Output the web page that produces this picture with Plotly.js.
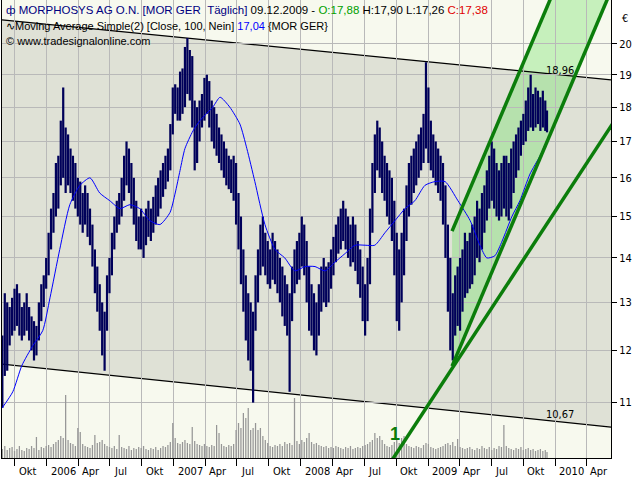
<!DOCTYPE html>
<html><head><meta charset="utf-8">
<script src="https://cdn.plot.ly/plotly-3.0.1.min.js"></script>
<style>html,body{margin:0;padding:0;background:#fff}#c{width:640px;height:480px}</style>
</head><body><div id="c"></div>
<script>
// weekly price range (week ending Friday)
const dates = [
'2005-08-26','2005-09-02','2005-09-09','2005-09-16','2005-09-23','2005-09-30','2005-10-07','2005-10-14','2005-10-21','2005-10-28','2005-11-04','2005-11-11','2005-11-18','2005-11-25','2005-12-02','2005-12-09','2005-12-16','2005-12-23','2005-12-30',
'2006-01-06','2006-01-13','2006-01-20','2006-01-27','2006-02-03','2006-02-10','2006-02-17','2006-02-24','2006-03-03','2006-03-10','2006-03-17','2006-03-24','2006-03-31','2006-04-07','2006-04-14','2006-04-21','2006-04-28','2006-05-05','2006-05-12','2006-05-19','2006-05-26','2006-06-02','2006-06-09','2006-06-16','2006-06-23','2006-06-30','2006-07-07','2006-07-14','2006-07-21','2006-07-28','2006-08-04','2006-08-11','2006-08-18','2006-08-25','2006-09-01','2006-09-08','2006-09-15','2006-09-22','2006-09-29','2006-10-06','2006-10-13','2006-10-20','2006-10-27','2006-11-03','2006-11-10','2006-11-17','2006-11-24','2006-12-01','2006-12-08','2006-12-15','2006-12-22','2006-12-29',
'2007-01-05','2007-01-12','2007-01-19','2007-01-26','2007-02-02','2007-02-09','2007-02-16','2007-02-23','2007-03-02','2007-03-09','2007-03-16','2007-03-23','2007-03-30','2007-04-06','2007-04-13','2007-04-20','2007-04-27','2007-05-04','2007-05-11','2007-05-18','2007-05-25','2007-06-01','2007-06-08','2007-06-15','2007-06-22','2007-06-29','2007-07-06','2007-07-13','2007-07-20','2007-07-27','2007-08-03','2007-08-10','2007-08-17','2007-08-24','2007-08-31','2007-09-07','2007-09-14','2007-09-21','2007-09-28','2007-10-05','2007-10-12','2007-10-19','2007-10-26','2007-11-02','2007-11-09','2007-11-16','2007-11-23','2007-11-30','2007-12-07','2007-12-14','2007-12-21','2007-12-28',
'2008-01-04','2008-01-11','2008-01-18','2008-01-25','2008-02-01','2008-02-08','2008-02-15','2008-02-22','2008-02-29','2008-03-07','2008-03-14','2008-03-21','2008-03-28','2008-04-04','2008-04-11','2008-04-18','2008-04-25','2008-05-02','2008-05-09','2008-05-16','2008-05-23','2008-05-30','2008-06-06','2008-06-13','2008-06-20','2008-06-27','2008-07-04','2008-07-11','2008-07-18','2008-07-25','2008-08-01','2008-08-08','2008-08-15','2008-08-22','2008-08-29','2008-09-05','2008-09-12','2008-09-19','2008-09-26','2008-10-03','2008-10-10','2008-10-17','2008-10-24','2008-10-31','2008-11-07','2008-11-14','2008-11-21','2008-11-28','2008-12-05','2008-12-12','2008-12-19','2008-12-26',
'2009-01-02','2009-01-09','2009-01-16','2009-01-23','2009-01-30','2009-02-06','2009-02-13','2009-02-20','2009-02-27','2009-03-06','2009-03-13','2009-03-20','2009-03-27','2009-04-03','2009-04-10','2009-04-17','2009-04-24','2009-05-01','2009-05-08','2009-05-15','2009-05-22','2009-05-29','2009-06-05','2009-06-12','2009-06-19','2009-06-26','2009-07-03','2009-07-10','2009-07-17','2009-07-24','2009-07-31','2009-08-07','2009-08-14','2009-08-21','2009-08-28','2009-09-04','2009-09-11','2009-09-18','2009-09-25','2009-10-02','2009-10-09','2009-10-16','2009-10-23','2009-10-30','2009-11-06','2009-11-13','2009-11-20','2009-11-27','2009-12-04','2009-12-09'];
const high = [
12.3,13.2,13.0,12.9,13.1,13.3,13.4,13.2,12.9,13.0,13.2,12.9,12.7,12.6,12.5,13.0,13.4,13.6,14.0,
14.6,15.2,15.6,16.4,16.6,17.6,18.6,17.4,17.2,16.8,16.6,16.4,16.0,15.9,15.6,15.8,15.6,15.2,14.8,14.2,13.8,13.4,13.0,12.8,13.6,14.0,14.6,15.0,15.4,15.6,16.0,16.6,17.0,16.8,16.4,16.0,15.4,15.0,15.2,15.0,15.2,15.4,15.2,15.5,15.8,16.0,16.2,16.4,16.6,16.8,17.5,18.6,
18.7,18.6,19.1,19.2,19.9,20.2,19.8,19.6,18.2,18.0,18.2,18.4,18.9,19.0,18.8,18.2,18.0,17.8,17.4,17.2,17.0,16.8,16.6,16.5,16.6,16.4,15.6,15.0,14.2,13.6,13.2,13.0,12.8,13.6,14.2,14.8,15.0,14.6,14.4,14.2,14.6,14.4,14.2,14.0,13.8,13.6,13.4,13.2,13.8,14.2,14.4,14.6,
15.0,14.8,14.4,13.8,13.4,13.2,13.0,13.4,13.8,14.0,13.8,13.9,14.2,14.5,14.8,15.0,15.2,15.4,15.2,15.0,14.8,15.0,14.8,14.4,14.2,13.8,13.4,14.0,15.2,16.4,17.2,17.6,17.4,17.0,16.6,16.4,16.2,16.0,15.4,14.6,14.2,14.6,15.2,15.8,16.4,16.6,16.8,17.0,17.2,17.4,17.8,19.4,
18.6,17.6,17.2,17.0,16.8,16.6,16.4,15.8,14.8,14.0,13.2,13.6,13.8,14.0,14.2,14.6,14.4,14.6,14.8,15.0,15.4,15.2,15.6,15.8,16.2,16.6,17.0,16.8,16.4,16.2,16.4,16.6,16.6,16.4,16.8,17.0,17.2,17.4,17.6,17.8,18.2,18.6,19.0,18.4,18.6,18.5,18.3,18.5,18.2,17.9];
const low = [
10.9,11.5,11.6,12.1,12.3,12.4,12.5,12.3,12.2,12.3,12.4,12.2,12.0,11.8,11.9,12.2,12.6,12.9,13.3,
13.6,14.2,14.6,15.0,15.2,15.8,16.0,15.6,15.8,15.6,15.4,15.2,15.0,14.8,14.6,14.8,14.5,14.3,13.8,13.2,12.8,12.4,11.9,11.6,12.4,13.2,13.6,14.2,14.6,14.8,15.0,15.4,15.8,15.6,15.2,14.8,14.4,14.2,14.2,14.0,14.3,14.5,14.4,14.6,14.8,15.0,15.2,15.5,15.7,15.9,16.2,17.2,
17.8,17.6,17.6,17.8,18.0,18.4,18.2,17.4,16.2,16.4,17.0,17.4,17.6,17.8,17.4,17.0,16.8,16.6,16.4,16.2,16.0,15.8,15.7,15.6,15.4,14.8,14.2,13.4,12.8,12.2,11.8,11.6,11.0,12.4,13.0,13.6,13.8,13.6,13.4,13.3,13.5,13.4,13.2,13.0,12.7,12.5,12.3,11.2,12.6,13.2,13.4,13.5,
13.8,13.6,13.0,12.4,12.3,12.0,11.9,12.3,12.8,13.0,12.9,13.0,13.3,13.6,13.9,14.1,14.2,14.4,14.2,14.0,13.8,13.9,13.7,13.4,13.1,12.6,12.3,12.6,13.4,14.6,15.6,16.2,16.0,15.6,15.4,15.0,14.8,14.4,13.6,12.6,12.4,13.0,13.6,14.4,15.0,15.3,15.6,15.8,16.0,16.2,16.4,16.8,
16.4,16.2,16.0,15.8,15.6,15.4,14.8,14.0,12.8,12.0,11.8,12.3,12.5,12.4,12.8,13.1,13.2,13.3,13.4,13.6,14.0,13.9,14.2,14.6,14.9,15.2,15.4,15.2,15.0,14.9,15.0,15.2,15.0,14.9,15.2,15.6,16.0,16.2,16.6,16.9,17.0,17.3,17.4,17.3,17.4,17.5,17.3,17.4,17.3,17.26];
const volume = [
9,12,8,10,11,7,9,12,8,7,10,9,12,10,21,8,11,10,12,
13,11,14,16,18,22,20,63,18,15,14,12,30,26,14,12,11,10,13,23,15,16,18,14,12,11,10,12,9,23,11,10,9,12,8,10,9,11,10,12,9,8,10,9,11,8,10,12,11,13,16,35,
20,15,14,16,18,15,14,31,17,14,13,12,14,12,11,13,12,33,25,14,12,11,13,12,14,28,35,30,45,40,50,28,30,35,28,30,22,18,15,12,11,13,12,14,12,16,14,15,13,60,17,14,
18,16,20,25,16,14,15,13,12,11,12,10,11,10,12,11,10,9,11,10,12,9,10,11,10,12,13,14,16,18,25,20,22,18,14,12,11,13,16,18,15,20,22,14,12,11,10,12,11,10,13,15,
14,11,10,9,10,11,12,14,15,13,16,12,19,11,10,9,10,11,9,8,10,9,12,10,9,11,8,10,9,12,11,33,12,10,9,8,10,9,11,8,9,10,8,9,7,8,9,7,8,6];

// Moving Average Simple [Close, 100]
const maDates = ['2005-08-25','2005-09-25','2005-10-21','2005-11-22','2005-12-20','2006-01-10','2006-02-07','2006-03-08','2006-04-06','2006-05-05','2006-06-02','2006-07-01','2006-07-30','2006-08-28','2006-09-25','2006-10-24','2006-11-22','2006-12-21','2007-01-05','2007-01-19','2007-02-02','2007-02-25','2007-03-17','2007-04-23','2007-05-14','2007-06-11','2007-07-10','2007-07-30','2007-08-22','2007-09-20','2007-10-19','2007-11-16','2007-12-15','2008-01-13','2008-02-11','2008-03-11','2008-04-08','2008-05-07','2008-06-05','2008-07-04','2008-08-01','2008-08-30','2008-09-28','2008-10-27','2008-11-24','2008-12-23','2009-01-21','2009-02-19','2009-03-28','2009-05-02','2009-05-30','2009-06-19','2009-07-12','2009-08-02','2009-08-30','2009-09-22','2009-10-21','2009-11-19','2009-12-09'];
const ma = [10.9,11.2,11.7,12.1,12.4,13.1,14.2,15.3,15.8,16.0,15.6,15.4,15.2,15.3,15.2,14.9,14.8,15.1,15.6,16.2,16.8,17.3,17.6,18.0,18.3,18.0,17.5,16.8,15.9,14.8,14.2,14.0,13.7,13.8,13.8,13.7,13.9,14.1,14.3,14.3,14.3,14.6,14.9,15.2,15.4,15.8,15.9,15.9,15.4,14.9,14.3,14.0,14.05,14.4,15.0,15.4,16.1,16.6,17.04];

// axis ticks
const yTicks = [11,12,13,14,15,16,17,18,19,20];
const xTickDates = ['2005-10-01','2006-01-01','2006-04-01','2006-07-01','2006-10-01','2007-01-01','2007-04-01','2007-07-01','2007-10-01','2008-01-01','2008-04-01','2008-07-01','2008-10-01','2009-01-01','2009-04-01','2009-07-01','2009-10-01','2010-01-01','2010-04-01'];
const xTickLabels = ['Okt','2006','Apr','Jul','Okt','2007','Apr','Jul','Okt','2008','Apr','Jul','Okt','2009','Apr','Jul','Okt','2010','Apr'];

// drawing tools (anchor points)
const channelDates = ['2005-08-25','2010-06-11'];
const channelTop = [20.82, 18.84];
const channelBottom = [11.73, 10.56];
const channelLabels = ['18,96','10,67'];
const lineADates = ['2009-03-11','2010-02-13']; const lineAVals = [14.64, 23.28];
const lineBDates = ['2009-03-11','2010-07-27']; const lineBVals = [11.69, 23.28];
const lineCDates = ['2008-08-13','2010-09-02']; const lineCVals = [9.67, 18.77];

const xRange = ['2005-08-25','2010-06-11'];
const yRange = [10.03, 21.52];

const W=640,H=480, mL=2, mR=29, mT=0, mB=22;
const pw=W-mL-mR, ph=H-mT-mB;
const px=(p)=> (p-mL)/pw, py=(p)=> 1-(p-mT)/ph;

const CREAM='#F7F9EE', GRAY='#DFE1D6', GREEN='#0B7D0B', NAVY='#00005A';

const p = (d,v)=> d+','+v;
const shapes = [
  {type:'path', layer:'below', xref:'x', yref:'y', line:{width:0}, fillcolor:GRAY,
   path:'M '+p(channelDates[0],channelTop[0])+' L '+p(channelDates[1],channelTop[1])+' L '+p(channelDates[1],channelBottom[1])+' L '+p(channelDates[0],channelBottom[0])+' Z'},
  {type:'path', layer:'below', xref:'x', yref:'y', line:{width:0}, fillcolor:'rgba(110,225,100,0.36)',
   path:'M '+p(lineADates[0],lineAVals[0])+' L '+p(lineADates[1],lineAVals[1])+' L '+p(lineBDates[1],lineBVals[1])+' L '+p(lineBDates[0],lineBVals[0])+' Z'},
  {type:'line', layer:'below', xref:'x', yref:'y', x0:channelDates[0], y0:channelTop[0], x1:channelDates[1], y1:channelTop[1], line:{color:'#000',width:1.3}},
  {type:'line', layer:'below', xref:'x', yref:'y', x0:channelDates[0], y0:channelBottom[0], x1:channelDates[1], y1:channelBottom[1], line:{color:'#000',width:1.3}},
  // legend box background
  {type:'rect', layer:'below', xref:'paper', yref:'paper', x0:0, x1:px(186), y0:py(46), y1:1, line:{width:0}, fillcolor:CREAM},
  {type:'line', layer:'above', xref:'x', yref:'y', x0:lineADates[0], y0:lineAVals[0], x1:lineADates[1], y1:lineAVals[1], line:{color:GREEN,width:3.5}},
  {type:'line', layer:'above', xref:'x', yref:'y', x0:lineBDates[0], y0:lineBVals[0], x1:lineBDates[1], y1:lineBVals[1], line:{color:GREEN,width:3.5}},
  {type:'line', layer:'above', xref:'x', yref:'y', x0:lineCDates[0], y0:lineCVals[0], x1:lineCDates[1], y1:lineCVals[1], line:{color:GREEN,width:3.5}}
];

const FONT='"DejaVu Sans Condensed", "Liberation Sans", sans-serif';
const LFONT='Liberation Sans';
const ann = [];
xTickDates.forEach((d,i)=>ann.push({xref:'x', yref:'paper', x:d, y:py(471), text:xTickLabels[i], showarrow:false, xanchor:'left', yanchor:'middle', xshift:2, font:{family:FONT,size:11,color:'#000'}}));
ann.push({xref:'x', yref:'y', x:'2010-01-15', y:Math.log10(19.15), text:channelLabels[0], showarrow:false, font:{family:FONT,size:11,color:'#000'}});
ann.push({xref:'x', yref:'y', x:'2010-01-15', y:Math.log10(10.79), text:channelLabels[1], showarrow:false, font:{family:FONT,size:11,color:'#000'}});
ann.push({xref:'x', yref:'y', x:'2008-09-28', y:Math.log10(10.44), text:'<b>1</b>', showarrow:false, font:{family:'Liberation Sans',size:18,color:GREEN}});
ann.push({xref:'paper', yref:'paper', x:px(620), y:py(10), text:'€', showarrow:false, xanchor:'left', font:{family:FONT,size:11,color:'#000'}});
ann.push({xref:'paper', yref:'paper', x:px(4), y:py(10), xanchor:'left', yanchor:'middle', showarrow:false, font:{family:LFONT,size:11.5,color:'#000'},
  text:'<span style="color:#000080">ф MORPHOSYS AG O.N. [MOR GER \u00a0Täglich]</span> 09.12.2009 - <span style="color:#00A000">O:17,88</span> H:17,90 L:17,26 <span style="color:#E00000">C:17,38</span>'});
ann.push({xref:'paper', yref:'paper', x:px(4), y:py(26), xanchor:'left', yanchor:'middle', showarrow:false, font:{family:LFONT,size:11,color:'#000'},
  text:'∿Moving Average Simple(2) [Close, 100, Nein] <span style="color:#0000FF">17,04</span> {MOR GER}'});
ann.push({xref:'paper', yref:'paper', x:px(4), y:py(41), xanchor:'left', yanchor:'middle', showarrow:false, font:{family:LFONT,size:11,color:'#000'},
  text:'© www.tradesignalonline.com'});

const DAY=86400000;
const data = [
  {type:'bar', x:dates, y:volume, yaxis:'y2', marker:{color:'#969696', line:{width:0}}, width:DAY*3.6},
  {type:'bar', x:dates, base:low, y:high.map((h,i)=>h-low[i]), marker:{color:NAVY, line:{width:0}}, width:DAY*6.4},
  {type:'scatter', mode:'lines', x:maDates, y:ma, line:{color:'#0000FF',width:1, shape:'spline', smoothing:0.6}}
];

const layout = {
  width:W, height:H, margin:{l:mL,r:mR,t:mT,b:mB}, paper_bgcolor:'#FFFFFF', plot_bgcolor:CREAM,
  showlegend:false, barmode:'overlay',
  xaxis:{type:'date', range:xRange, tickvals:xTickDates, showticklabels:false, ticks:'outside', ticklen:7, tickcolor:'#000',
    showgrid:true, gridcolor:'#B9B9B9', gridwidth:1, showline:true, linecolor:'#000', linewidth:1, mirror:true, zeroline:false},
  yaxis:{type:'log', range:[Math.log10(yRange[0]),Math.log10(yRange[1])], side:'right', tickvals:yTicks, ticktext:yTicks.map(String), ticks:'outside', ticklen:5, tickcolor:'#000',
    showgrid:true, gridcolor:'#B9B9B9', gridwidth:1, showline:true, linecolor:'#000', linewidth:1, mirror:true, tickfont:{family:FONT,size:11,color:'#000'}},
  yaxis2:{overlaying:'y', range:[0,ph], visible:false, showgrid:false},
  shapes:shapes, annotations:ann
};
Plotly.newPlot('c', data, layout, {staticPlot:true});
</script></body></html>
